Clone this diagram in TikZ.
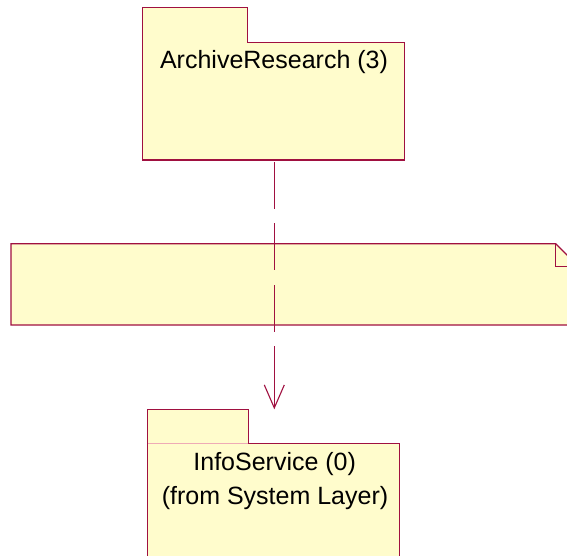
\documentclass[tikz,border=0pt]{standalone}
\usepackage{fontspec}
\setmainfont{Liberation Sans}
\usetikzlibrary{arrows.meta}
\definecolor{pkgfill}{RGB}{255,252,204}
\definecolor{pkgline}{RGB}{160,16,64}
\definecolor{tabsep}{RGB}{238,170,182}
\tikzset{
  outline/.style={draw=pkgline, line width=1.1pt, fill=pkgfill, line join=miter},
  frame/.style={inner sep=0pt, outer sep=0pt, draw=none},
  pkgname/.style={font=\fontsize{25}{25}\selectfont, inner sep=0pt, anchor=base, text=black},
  dependency/.style={draw=pkgline, line width=1.1pt,
    dash pattern=on 0pt off 2pt on 46.7pt off 14.6pt on 46.7pt off 15pt on 46.7pt off 14.3pt on 62pt off 200pt,
    -{Straight Barb[length=23pt, width=20pt, line width=1.1pt]}}
}
\begin{document}
\begin{tikzpicture}[x=1pt, y=-1pt]
\useasboundingbox (0,0) rectangle (567,556);
\clip (0,0) rectangle (567,556);

% ArchiveResearch package: tab plus body
\draw[outline] (142.7,160) -- (142.7,7.5) -- (247.3,7.5) -- (247.3,42.3)
  -- (404.3,42.3) -- (404.3,160) -- cycle;
\node[frame, minimum width=261.6pt, minimum height=152.5pt] (arch) at (273.5,83.75) {};
\node[pkgname] (archname) at (274,69) {ArchiveResearch (3)};

% note with folded corner
\draw[outline] (11,243.7) -- (555.7,243.7) -- (578.7,266.7) -- (578.7,325) -- (11,325) -- cycle;
\draw[draw=pkgline, line width=1.1pt] (555.7,243.7) -- (555.7,266.3) -- (578.7,266.3);
\node[frame, minimum width=567.7pt, minimum height=81.3pt] (note) at (294.85,284.35) {};

% InfoService package: tab plus body
\draw[outline] (147.7,580) -- (147.7,409.3) -- (248.3,409.3) -- (248.3,443.3)
  -- (399.3,443.3) -- (399.3,580);
\draw[tabsep, line width=1pt] (148.3,443.3) -- (247.7,443.3);
\node[frame, minimum width=251.6pt, minimum height=146.7pt] (info) at (273.5,482.65) {};
\node[pkgname] (infoname) at (274.7,470.7) {InfoService (0)};
\node[pkgname] (infofrom) at (275,504) {(from System Layer)};

% dependency
\draw[dependency] ([xshift=0.8pt]arch.south) -- ([xshift=0.8pt]info.north);
\end{tikzpicture}
\end{document}
